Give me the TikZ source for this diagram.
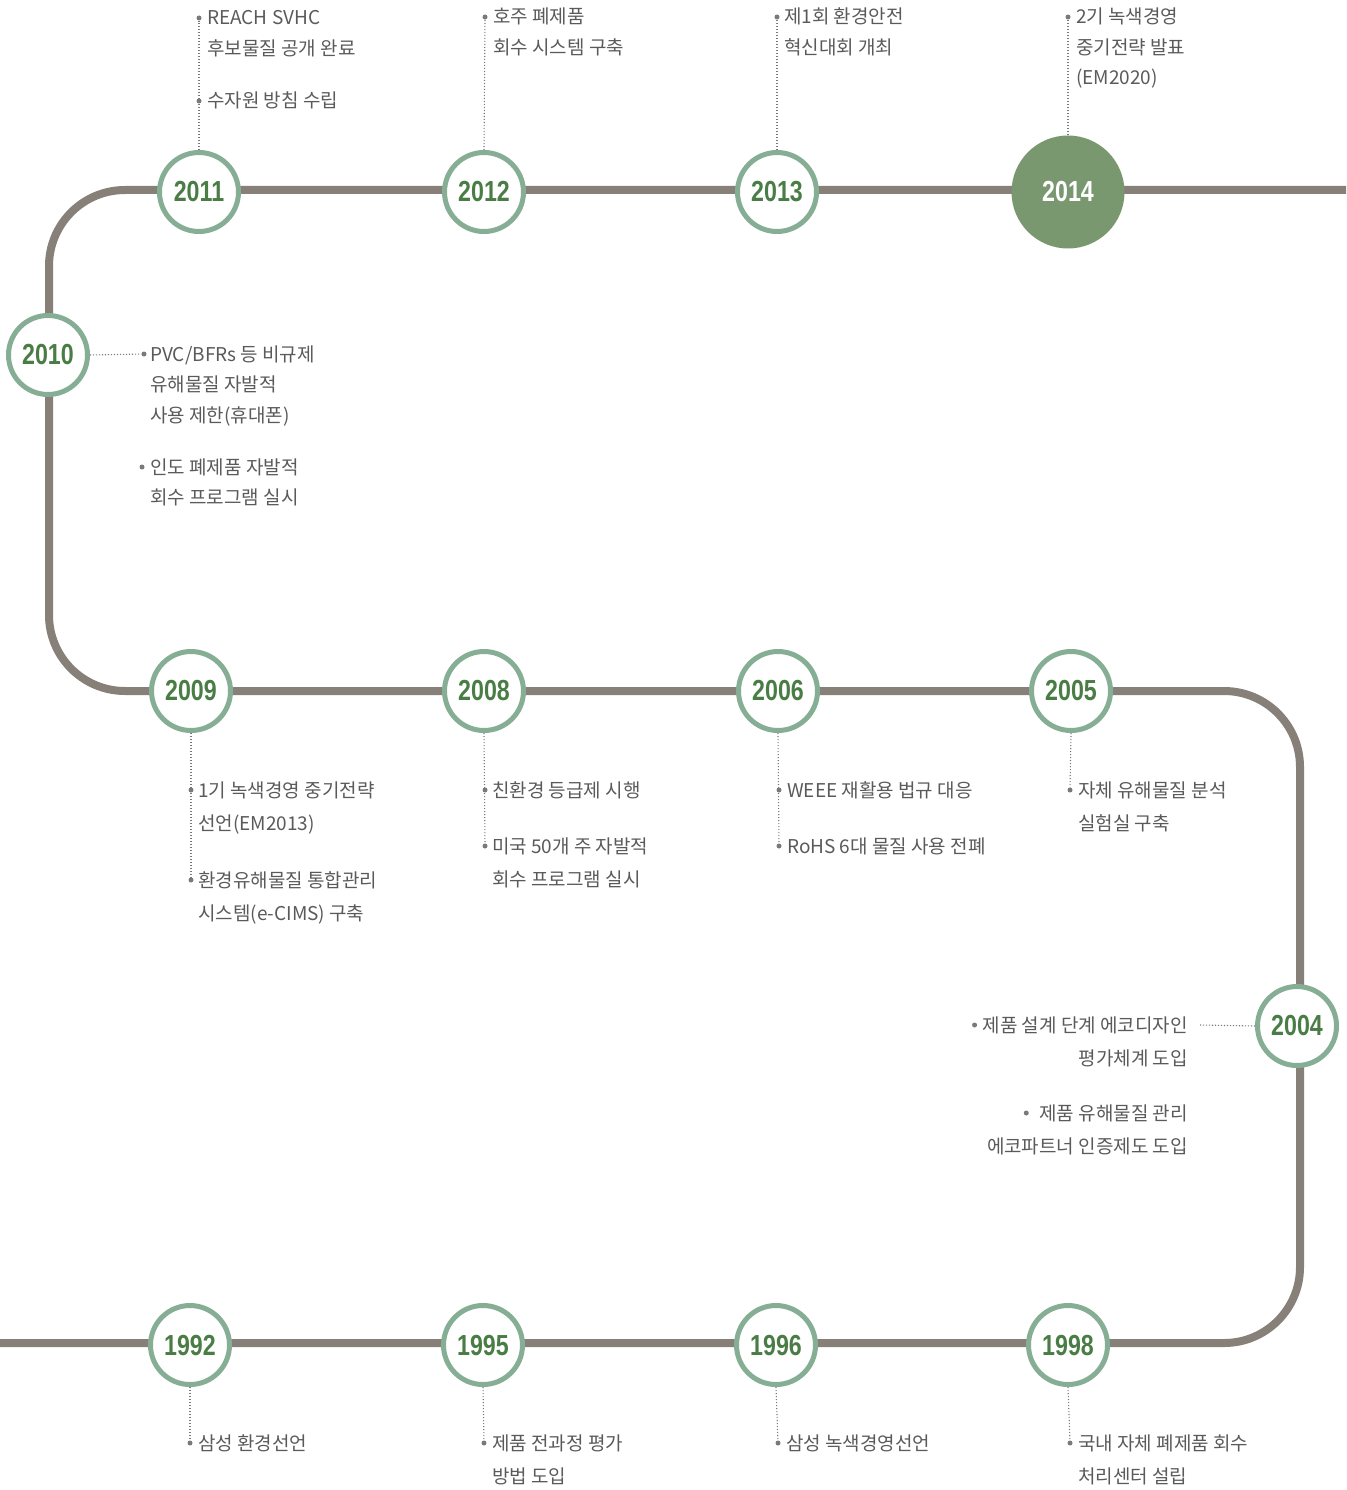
\documentclass[tikz,border=0pt]{standalone}
\usepackage{fontspec}
\setmainfont{Noto Sans CJK KR}
\newfontfamily\yrfont{Liberation Sans}[FakeStretch=0.8]
\definecolor{trackc}{HTML}{878079}
\definecolor{ringc}{HTML}{86AE95}
\definecolor{yrc}{HTML}{4A7D45}
\definecolor{bigc}{HTML}{7A9870}
\definecolor{txtc}{HTML}{5A5A5A}
\definecolor{dotc}{HTML}{7A7A7A}
\newcommand\lft[1]{\vtop{\halign{##\hfil\cr#1\crcr}}}
\tikzset{
  track/.style={draw=trackc, line width=8, rounded corners=76},
  yr/.style={circle, draw=ringc, line width=5, fill=white, minimum size=79, inner sep=0,
    font=\yrfont\bfseries\fontsize{29}{30}\selectfont, text=yrc},
  yrbig/.style={circle, fill=bigc, minimum size=113, inner sep=0,
    font=\yrfont\bfseries\fontsize{29}{30}\selectfont, text=white},
  bul/.style={circle, fill=dotc, inner sep=0, minimum size=5},
  lnk/.style={draw=dotc, line width=1.1, dash pattern=on 1.1 off 1.9},
  txt/.style={anchor=base west, inner sep=0, text=txtc, font=\fontsize{19}{30.5}\selectfont},
  txtb/.style={anchor=base west, inner sep=0, text=txtc, font=\fontsize{19}{33}\selectfont},
  txtr/.style={anchor=base east, inner sep=0, text=txtc, font=\fontsize{19}{33}\selectfont},
}
\begin{document}
\begin{tikzpicture}[x=1pt,y=-1pt]
\useasboundingbox (0,0) rectangle (1346,1490);
% track
\draw[track] (1346,190) -- (49,190) -- (49,691) -- (1300,691) -- (1300,1343) -- (0,1343);

% year circles
\node[yr] (y2011) at (199,192) {2011};
\node[yr] (y2012) at (484,192) {2012};
\node[yr] (y2013) at (777,192) {2013};
\node[yrbig] (y2014) at (1068,192) {2014};
\node[yr] (y2010) at (48,355) {2010};
\node[yr] (y2009) at (191,691) {2009};
\node[yr] (y2008) at (484,691) {2008};
\node[yr] (y2006) at (778,691) {2006};
\node[yr] (y2005) at (1071,691) {2005};
\node[yr] (y2004) at (1297,1026) {2004};
\node[yr] (y1992) at (190,1345) {1992};
\node[yr] (y1995) at (483,1345) {1995};
\node[yr] (y1996) at (776,1345) {1996};
\node[yr] (y1998) at (1068,1345) {1998};

% texts
\node[txt] (t2011a) at (207,25) {\lft{REACH SVHC\cr 후보물질 공개 완료}};
\node[txt] (t2011b) at (207,108) {\lft{수자원 방침 수립}};
\node[txt] (t2012a) at (493,24) {\lft{호주 폐제품\cr 회수 시스템 구축}};
\node[txt] (t2013a) at (784,24) {\lft{제1회 환경안전\cr 혁신대회 개최}};
\node[txt] (t2014a) at (1076,24) {\lft{2기 녹색경영\cr 중기전략 발표\cr (EM2020)}};
\node[txt] (t2010a) at (150,361) {\lft{PVC/BFRs 등 비규제\cr 유해물질 자발적\cr 사용 제한(휴대폰)}};
\node[txt] (t2010b) at (150,474) {\lft{인도 폐제품 자발적\cr 회수 프로그램 실시}};
\node[txtb] (t2009a) at (198,797) {\lft{1기 녹색경영 중기전략\cr 선언(EM2013)}};
\node[txtb] (t2009b) at (198,887) {\lft{환경유해물질 통합관리\cr 시스템(e-CIMS) 구축}};
\node[txtb] (t2008a) at (492,797) {\lft{친환경 등급제 시행}};
\node[txtb] (t2008b) at (492,853) {\lft{미국 50개 주 자발적\cr 회수 프로그램 실시}};
\node[txtb] (t2006a) at (787,797) {\lft{WEEE 재활용 법규 대응}};
\node[txtb] (t2006b) at (787,853) {\lft{RoHS 6대 물질 사용 전폐}};
\node[txtb] (t2005a) at (1078,797) {\lft{자체 유해물질 분석\cr 실험실 구축}};
\node[txtr] (t2004a) at (1188,1032) {제품 설계 단계 에코디자인};
\node[txtr] (t2004a2) at (1188,1065) {평가체계 도입};
\node[txtr] (t2004b) at (1188,1120) {제품 유해물질 관리};
\node[txtr] (t2004b2) at (1188,1153) {에코파트너 인증제도 도입};
\node[txtb] (t1992a) at (198,1450) {\lft{삼성 환경선언}};
\node[txtb] (t1995a) at (492,1450) {\lft{제품 전과정 평가\cr 방법 도입}};
\node[txtb] (t1996a) at (786,1450) {\lft{삼성 녹색경영선언}};
\node[txtb] (t1998a) at (1078,1450) {\lft{국내 자체 폐제품 회수\cr 처리센터 설립}};

% bullets
\node[bul] (b2011a) at (199,18) {};
\node[bul] (b2011b) at (199,101) {};
\node[bul] (b2012a) at (485,17) {};
\node[bul] (b2013a) at (777,17) {};
\node[bul] (b2014a) at (1068,17) {};
\node[bul] (b2010a) at (144,354) {};
\node[bul] (b2010b) at (142,467) {};
\node[bul] (b2009a) at (191,790) {};
\node[bul] (b2009b) at (191,880) {};
\node[bul] (b2008a) at (485,790) {};
\node[bul] (b2008b) at (485,846) {};
\node[bul] (b2006a) at (779,790) {};
\node[bul] (b2006b) at (779,846) {};
\node[bul] (b2005a) at (1070,790) {};
\node[bul] (b2004a) at ([xshift=-8pt,yshift=7pt]t2004a.base west) {};
\node[bul] (b2004b) at ([xshift=-13pt,yshift=7pt]t2004b.base west) {};
\node[bul] (b1992a) at (190,1443) {};
\node[bul] (b1995a) at (484,1443) {};
\node[bul] (b1996a) at (778,1443) {};
\node[bul] (b1998a) at (1070,1443) {};
\coordinate (c2004) at (1200,1025);

% dotted connectors
\draw[lnk] (y2011.north) -- (b2011a);
\draw[lnk] (y2012.north) -- (b2012a);
\draw[lnk] (y2013.north) -- (b2013a);
\draw[lnk] (y2014.north) -- (b2014a);
\draw[lnk] (y2010.east) -- (b2010a);
\draw[lnk] (y2009.south) -- (b2009b);
\draw[lnk] (y2008.south) -- (b2008b);
\draw[lnk] (y2006.south) -- (b2006b);
\draw[lnk] (y2005.south) -- (b2005a);
\draw[lnk] (y2004.west) -- (c2004);
\draw[lnk] (y1992.south) -- (b1992a);
\draw[lnk] (y1995.south) -- (b1995a);
\draw[lnk] (y1996.south) -- (b1996a);
\draw[lnk] (y1998.south) -- (b1998a);
\end{tikzpicture}
\end{document}
